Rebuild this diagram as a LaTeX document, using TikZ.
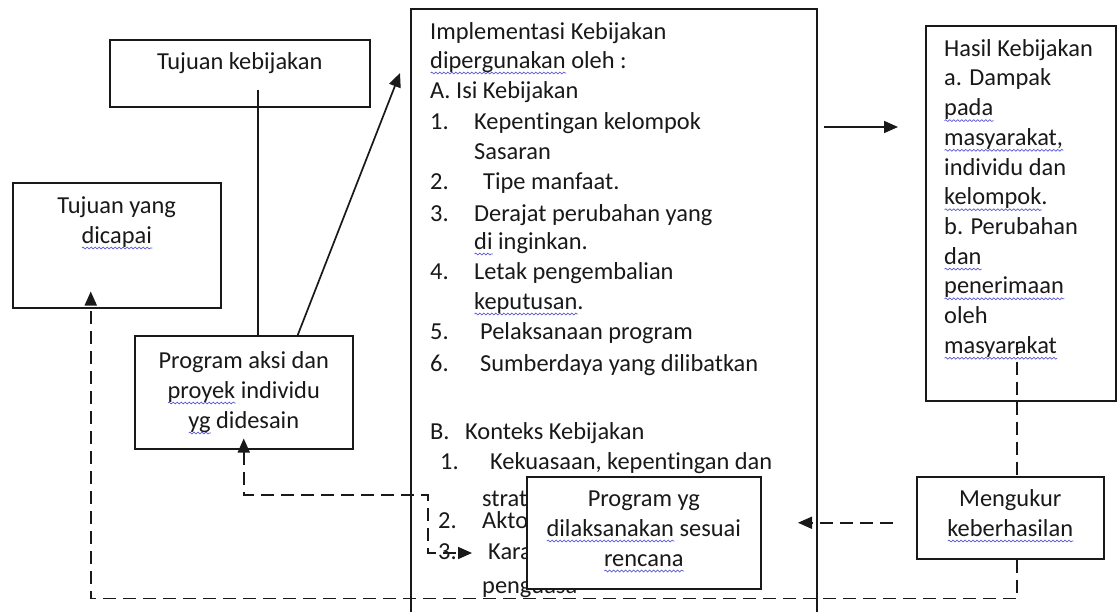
\documentclass[tikz,border=0pt]{standalone}
\usepackage{fontspec}
\setmainfont{Carlito}[Ligatures=NoCommon]
\usetikzlibrary{arrows.meta,calc,decorations.pathmorphing}
\definecolor{sqblue}{RGB}{90,90,210}
\newsavebox\sqbox
\newcommand\squig[1]{\sbox\sqbox{#1}\leavevmode\rlap{\smash{\tikz[baseline=0pt]\draw[sqblue, line width=0.7pt, decorate, decoration={snake, amplitude=0.9pt, segment length=4pt}] (0pt,-5pt) -- (\wd\sqbox,-5pt);}}\usebox\sqbox}
\tikzset{
  box/.style={draw=black!90, line width=1.5pt, fill=white, anchor=north west, inner sep=0pt},
  txt/.style={text=black!90, font=\fontsize{24.4}{30}\selectfont, inner sep=0pt},
  conn/.style={black!90, line width=1.7pt},
  dsh/.style={conn, dash pattern=on 13pt off 7pt},
  arr/.style={-{Triangle[length=14pt,width=12pt]}},
  arrs/.style={{Triangle[length=14pt,width=12pt]}-{Triangle[length=14pt,width=12pt]}},
}
\begin{document}
\begin{tikzpicture}[x=1pt,y=-1pt]
\useasboundingbox (0,0) rectangle (1117,611);
% boxes on the left
\node[box, minimum width=260pt, minimum height=67pt] (tk) at (109,39) {};
\node[box, minimum width=208pt, minimum height=125pt] (tyd) at (12,182) {};
\node[box, minimum width=218pt, minimum height=113pt] (pa) at (134,335) {};
% middle box
\node[box, minimum width=406pt, minimum height=620pt] (impl) at (410,8) {};
% boxes on the right
\node[box, minimum width=190pt, minimum height=375pt] (hasil) at (925,25) {};
\node[box, minimum width=187pt, minimum height=82pt] (mk) at (916,476) {};

\node[txt, anchor=base, text width=250pt, align=flush center] (tk-t) at ($(tk.north)+(0,30)$) {Tujuan kebijakan};
\node[txt, anchor=base, text width=200pt, align=flush center] (tyd-t) at ($(tyd.north)+(0,31)$) {Tujuan yang\\\squig{dicapai}};
\node[txt, anchor=base, text width=210pt, align=flush center] (pa-t) at ($(pa.north)+(0,33)$) {Program aksi dan\\\squig{proyek} individu\\\squig{yg} didesain};
\node[txt, anchor=base, text width=180pt, align=flush center] (mk-t) at ($(mk.north)+(0,30)$) {Mengukur\\\squig{keberhasilan}};

% isi kotak tengah
\foreach \x/\y/\t [count=\i] in {430/39/Implementasi Kebijakan, 430/68/\squig{dipergunakan} oleh :,
  430/98/A. Isi Kebijakan, 430/129/1., 474/129/Kepentingan kelompok, 474/159/Sasaran,
  430/189/2., 483/189/Tipe manfaat., 430/221/3., 474/221/Derajat perubahan yang,
  474/249/\squig{di} inginkan., 430/279/4., 474/279/Letak pengembalian, 474/309/\squig{keputusan}.,
  430/339/5., 480/339/Pelaksanaan program, 430/371/6., 480/371/Sumberdaya yang dilibatkan,
  430/439/B., 465/439/Konteks Kebijakan, 440/469/1., 490/469/{Kekuasaan, kepentingan dan},
  482/506/strat, 438/528/2., 482/528/Akto, 438/559/3., 488/559/Kara, 482/593/penguasa}
  \node[txt, anchor=base west] (im-\i) at (\x,\y) {\t};

\node[box, minimum width=234pt, minimum height=112pt] (py) at (526,476) {};
\node[txt, anchor=base, text width=226pt, align=flush center] (py-t) at ($(py.north)+(0,30)$) {Program yg\\\squig{dilaksanakan} sesuai\\\squig{rencana}};

% hasil kebijakan
\foreach \t [count=\i] in {Hasil Kebijakan, a. Dampak, \squig{pada}, {\squig{masyarakat,}}, individu dan,
  \squig{kelompok}., b. Perubahan, \squig{dan}, \squig{penerimaan}, oleh, \squig{masyarakat}}
  \node[txt, anchor=base west] (hs-\i) at ($(hasil.north west)+(19,1.5+29.7*\i)$) {\t};

% solid connectors
\coordinate (tkin) at ($(tk.south)+(18,-18)$);
\draw[conn] (tkin) -- (tkin |- pa.north);
\draw[conn, arr] ($(pa.north)+(54,0)$) -- ($(impl.north west)+(-10,65)$);
\draw[conn, arr] ($(impl.north east)+(6,119)$) -- ($(hasil.north west)+(-27,102)$);

% dashed feedback
\coordinate (drop) at ($(hasil.south)+(-4,-60)$);
\draw[dsh] (drop) -- (drop |- mk.north);
\draw[dsh, arr] (drop |- mk.south) -- ++(0,39) -| ($(tyd.south)+(-26,-17)$);
\draw[dsh, arr] ($(mk.west)+(-23,5)$) -- ++(-95,0);
\coordinate (bend) at (428,495);
\coordinate (kara) at (472,553);
\draw[dsh, arrs] ($(pa.south)+(0,-11)$) |- (bend) |- (kara);
\end{tikzpicture}
\end{document}
